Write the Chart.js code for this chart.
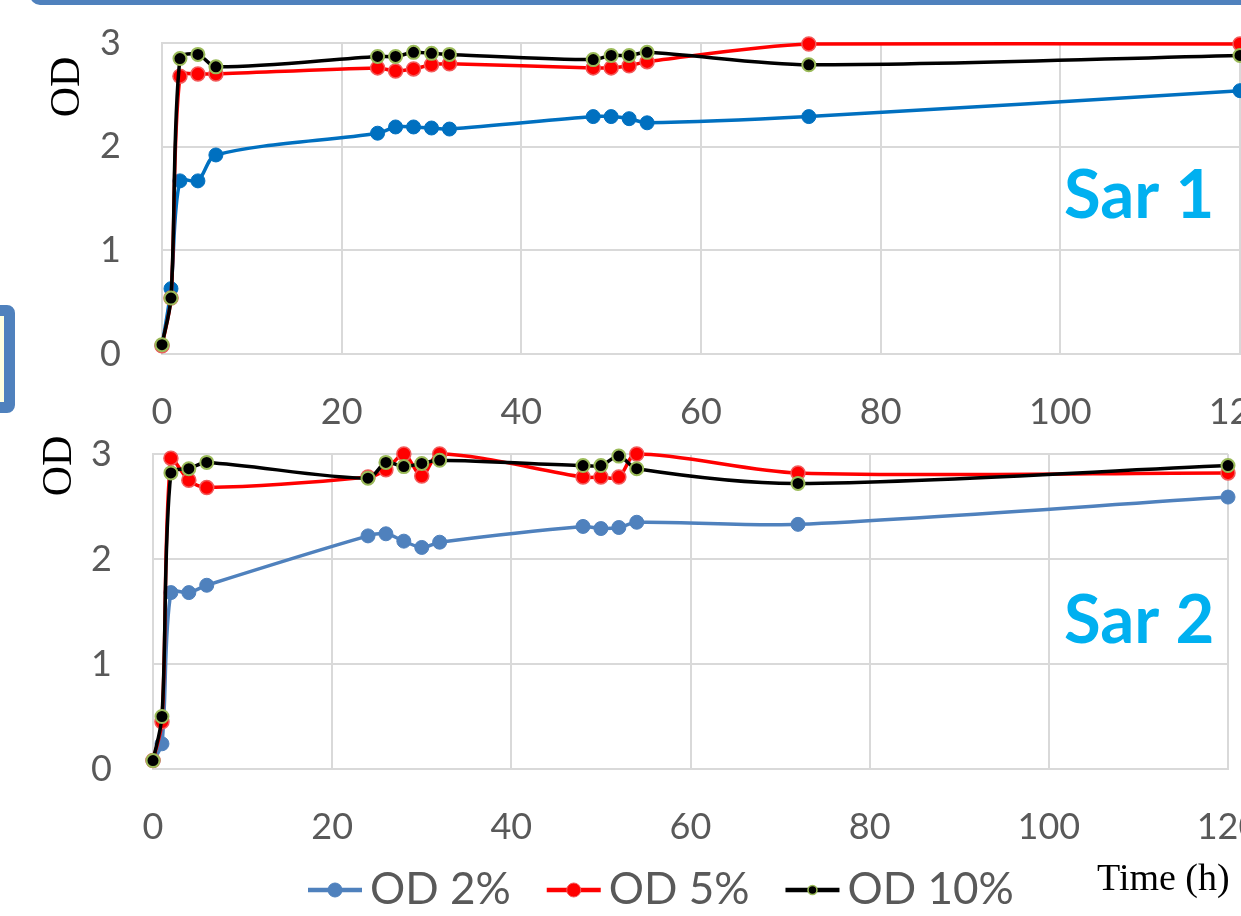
<!DOCTYPE html>
<html><head><meta charset="utf-8">
<script src="https://cdn.jsdelivr.net/npm/chart.js@4.4.1/dist/chart.umd.min.js"></script>
<style>
html,body{margin:0;padding:0;width:1241px;height:916px;overflow:hidden;background:#fff;position:relative}
canvas{position:absolute;left:0}
#c1{top:0}
#c2{top:425px}
.frame{position:absolute;box-sizing:border-box;left:30px;top:-200px;width:1400px;height:205px;border:5px solid #4F81BD;border-radius:10px}
.bracket{position:absolute;box-sizing:border-box;left:-80px;top:305px;width:95px;height:108px;border:11px solid #4F81BD;border-radius:8px;background:#FFFFE0}
</style></head>
<body>
<div class="frame"></div>
<div class="bracket"></div>
<canvas id="c1" width="1300" height="425"></canvas>
<canvas id="c2" width="1300" height="491"></canvas>
<script>
// ---- data ----
const TIME_H = [0, 1, 2, 4, 6, 24, 26, 28, 30, 32, 48, 50, 52, 54, 72, 120];
const X_TICKS = [0, 20, 40, 60, 80, 100, 120];
const Y_TICKS = [0, 1, 2, 3];
const SERIES_NAMES = ['OD 2%', 'OD 5%', 'OD 10%'];
const PANEL_LABELS = ['Sar 1', 'Sar 2'];
const Y_TITLE = 'OD';
const X_TITLE = 'Time (h)';

const SAR1_OD2  = [0.08, 0.63, 1.67, 1.67, 1.92, 2.13, 2.19, 2.19, 2.18, 2.17, 2.29, 2.29, 2.27, 2.23, 2.29, 2.54];
const SAR1_OD5  = [0.08, 0.54, 2.68, 2.70, 2.70, 2.76, 2.73, 2.75, 2.79, 2.80, 2.76, 2.76, 2.78, 2.82, 2.99, 2.99];
const SAR1_OD10 = [0.09, 0.54, 2.85, 2.89, 2.77, 2.87, 2.87, 2.91, 2.90, 2.89, 2.84, 2.88, 2.88, 2.91, 2.79, 2.88];

const SAR2_OD2  = [0.08, 0.24, 1.68, 1.68, 1.75, 2.22, 2.24, 2.17, 2.11, 2.16, 2.31, 2.29, 2.30, 2.35, 2.33, 2.59];
const SAR2_OD5  = [0.08, 0.45, 2.96, 2.75, 2.68, 2.78, 2.85, 3.00, 2.79, 3.00, 2.78, 2.78, 2.78, 3.00, 2.82, 2.82];
const SAR2_OD10 = [0.08, 0.50, 2.82, 2.86, 2.92, 2.77, 2.92, 2.88, 2.91, 2.94, 2.89, 2.89, 2.98, 2.86, 2.72, 2.89];

// ---- styles ----
const TICK_FONT = {family: 'Lato', size: 36};
const TICK_COLOR = '#595959';
const GRID = '#D9D9D9';

function pts(ys) { return TIME_H.map((t, i) => ({x: t, y: ys[i]})); }

function makeDatasets(ys2, ys5, ys10, blue) {
  return [
    {label: SERIES_NAMES[0], data: pts(ys2), borderColor: blue, backgroundColor: blue,
     pointBackgroundColor: blue, pointBorderColor: blue, pointBorderWidth: 1, pointRadius: 7,
     borderWidth: 3.5, tension: 0.3, order: 3, clip: false},
    {label: SERIES_NAMES[1], data: pts(ys5), borderColor: '#FF0000', backgroundColor: '#FF0000',
     pointBackgroundColor: '#FF0000', pointBorderColor: '#F25A5A', pointBorderWidth: 1.5, pointRadius: 7,
     borderWidth: 3.5, tension: 0.3, order: 2, clip: false},
    {label: SERIES_NAMES[2], data: pts(ys10), borderColor: '#000000', backgroundColor: '#000000',
     pointBackgroundColor: '#000000', pointBorderColor: '#9BBB59', pointBorderWidth: 2, pointRadius: 6.5,
     borderWidth: 3.5, tension: 0.3, order: 1, clip: false}
  ];
}

const decor = {
  id: 'decor',
  afterDraw(chart, args, o) {
    const ctx = chart.ctx;
    // y title
    ctx.save();
    ctx.translate(o.odX, o.odY);
    ctx.rotate(-Math.PI / 2);
    ctx.font = '42px "Liberation Serif"';
    ctx.fillStyle = '#000';
    ctx.textAlign = 'center';
    ctx.textBaseline = 'middle';
    ctx.fillText(Y_TITLE, 0, 0);
    ctx.restore();
    // panel label
    ctx.save();
    ctx.font = 'bold 67px Lato';
    ctx.fillStyle = '#00B0F0';
    ctx.textAlign = 'left';
    ctx.textBaseline = 'alphabetic';
    ctx.fillText(o.panel, o.panelX, o.panelY);
    ctx.restore();
    if (o.legend) {
      ctx.save();
      const y = o.legendY;
      let x = o.legendX;
      ctx.font = '44px Lato';
      ctx.textBaseline = 'middle';
      chart.data.datasets.forEach((d, i) => {
        ctx.strokeStyle = d.borderColor;
        ctx.lineWidth = 4.5;
        ctx.beginPath(); ctx.moveTo(x, y); ctx.lineTo(x + 54, y); ctx.stroke();
        ctx.beginPath();
        const r = i === 2 ? 4.5 : 7;
        ctx.arc(x + 27, y, r, 0, Math.PI * 2);
        ctx.fillStyle = d.pointBackgroundColor;
        ctx.fill();
        ctx.lineWidth = i === 2 ? 1.5 : 1;
        ctx.strokeStyle = d.pointBorderColor;
        ctx.stroke();
        ctx.fillStyle = TICK_COLOR;
        ctx.textAlign = 'left';
        ctx.fillText(d.label, x + 62, y);
        x += 62 + ctx.measureText(d.label).width + 36;
      });
      ctx.font = '38px "Liberation Serif"';
      ctx.fillStyle = '#000';
      ctx.textBaseline = 'alphabetic';
      ctx.fillText(X_TITLE, o.timeX, o.timeY);
      ctx.restore();
    }
  }
};

function makeChart(id, datasets, leftW, xH, pad, deco) {
  return new Chart(document.getElementById(id), {
    type: 'line',
    data: {datasets},
    plugins: [decor],
    options: {
      responsive: false, animation: false,
      layout: {padding: pad},
      plugins: {legend: {display: false}, tooltip: {enabled: false}, decor: deco},
      scales: {
        x: {type: 'linear', min: 0, max: 120,
            afterBuildTicks: s => { s.ticks = X_TICKS.map(v => ({value: v})); },
            afterFit: s => { s.height = xH; s.paddingLeft = 0; s.paddingRight = 0; },
            grid: {color: GRID, lineWidth: 2, drawTicks: false},
            border: {color: GRID, width: 2},
            ticks: {font: TICK_FONT, color: TICK_COLOR, padding: 37, maxRotation: 0, autoSkip: false}},
        y: {type: 'linear', min: 0, max: 3,
            afterBuildTicks: s => { s.ticks = Y_TICKS.map(v => ({value: v})); },
            afterFit: s => { s.width = leftW; s.paddingTop = 0; s.paddingBottom = 0; },
            grid: {color: GRID, lineWidth: 2, drawTicks: false},
            border: {color: GRID, width: 2},
            ticks: {font: TICK_FONT, color: TICK_COLOR, padding: 41}}
      }
    }
  });
}

makeChart('c1', makeDatasets(SAR1_OD2, SAR1_OD5, SAR1_OD10, '#0070C0'), 162, 71,
  {top: 43, right: 60, left: 0, bottom: 0},
  {odX: 68, odY: 87, panel: PANEL_LABELS[0], panelX: 1064, panelY: 218, legend: false});

makeChart('c2', makeDatasets(SAR2_OD2, SAR2_OD5, SAR2_OD10, '#4F81BD'), 153, 147,
  {top: 29, right: 72, left: 0, bottom: 0},
  {odX: 60, odY: 41, panel: PANEL_LABELS[1], panelX: 1064, panelY: 218, legend: true,
   legendX: 308, legendY: 465, timeX: 1097, timeY: 465});
</script>
</body></html>
